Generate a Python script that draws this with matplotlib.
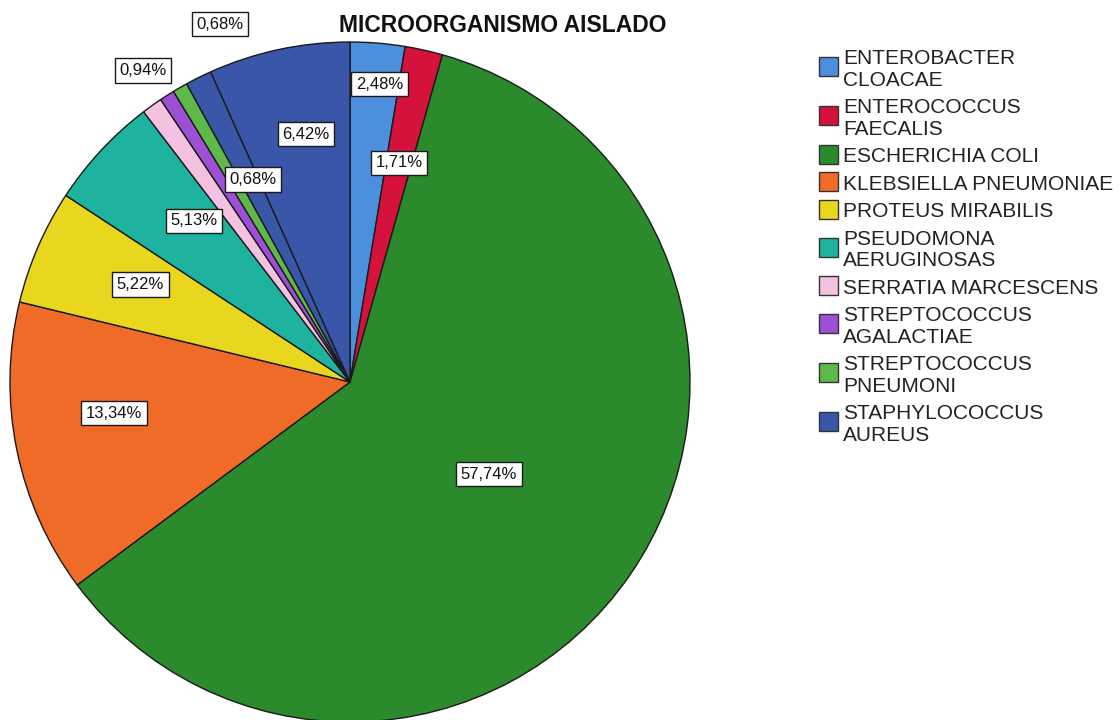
import numpy as np
import matplotlib.pyplot as plt
from matplotlib.patches import Rectangle

plt.rcParams['font.family'] = ['Liberation Sans', 'DejaVu Sans']

W, H = 1119, 720

# legend entries
organisms = ['ENTEROBACTER\nCLOACAE', 'ENTEROCOCCUS\nFAECALIS', 'ESCHERICHIA COLI',
             'KLEBSIELLA PNEUMONIAE', 'PROTEUS MIRABILIS', 'PSEUDOMONA\nAERUGINOSAS',
             'SERRATIA MARCESCENS', 'STREPTOCOCCUS\nAGALACTIAE', 'STREPTOCOCCUS\nPNEUMONI',
             'STAPHYLOCOCCUS\nAUREUS']
organism_colors = ['#4c8fdc', '#d4123c', '#2b8a2b', '#f06a28', '#e9d71f',
                   '#1db39e', '#f4c2e0', '#9d4fd6', '#5fb84a', '#3a56a8']

# slices clockwise from 12 o'clock; the sliver before S. aureus has no label
slice_pct = [2.48, 1.71, 57.74, 13.34, 5.22, 5.13, 0.94, 0.68, 0.68, 1.2, 6.42]
slice_org = [0, 1, 2, 3, 4, 5, 6, 7, 8, 9, 9]
slice_labelled = [True, True, True, True, True, True, True, True, True, False, True]

# label placement: radius (fraction of pie radius) and clockwise shift in degrees
label_r = [0.88, 0.66, 0.49, 0.70, 0.68, 0.66, 1.10, 0.66, 1.12, 0.7, 0.74]
label_shift = [1, 0, -1, 4, 1.5, 3, 2, 7, 10, 0, 2]

fig = plt.figure(figsize=(W / 100, H / 100), dpi=100)

# pie centred at (350, 382) px, radius 340 px
ax = fig.add_axes([10 / W, (H - 722) / H, 680 / W, 680 / H])
wedges, _ = ax.pie(slice_pct, colors=[organism_colors[i] for i in slice_org],
                   startangle=90, counterclock=False, radius=1,
                   wedgeprops=dict(edgecolor='#1a1a1a', linewidth=1.0))
for w in wedges:
    w.set_clip_on(False)
ax.set_xlim(-1, 1)
ax.set_ylim(-1, 1)
ax.set_aspect('equal')
ax.axis('off')

for w, pct, show, r, shift in zip(wedges, slice_pct, slice_labelled, label_r, label_shift):
    if not show:
        continue
    mid = np.deg2rad((w.theta1 + w.theta2) / 2 - shift)
    txt = f'{pct:.2f}%'.replace('.', ',')
    ax.text(r * np.cos(mid), r * np.sin(mid), txt, ha='center', va='center',
            fontsize=12, color='#111', zorder=5, clip_on=False,
            bbox=dict(boxstyle='square,pad=0.28', fc='white', ec='#1a1a1a', lw=1.0))

# overlay in pixel units for title and legend
lax = fig.add_axes([0, 0, 1, 1])
lax.set_xlim(0, W)
lax.set_ylim(H, 0)
lax.axis('off')
lax.patch.set_alpha(0)

lax.text(503, 31.5, 'MICROORGANISMO AISLADO', ha='center', va='baseline',
         fontsize=16.5, fontweight='bold', color='#111')

y = 57
for name, col in zip(organisms, organism_colors):
    lines = name.split('\n')
    ys = [y + k * 21.5 for k in range(len(lines))]
    yc = np.mean(ys) - 1
    lax.add_patch(Rectangle((819, yc - 9.5), 19, 19, fc=col, ec='#333', lw=1))
    for t, yy in zip(lines, ys):
        lax.text(843, yy + 7.4, t, ha='left', va='baseline', fontsize=15, color='#222')
    y = ys[-1] + 27.5

fig.savefig('out.png', dpi=100)
plt.close()
